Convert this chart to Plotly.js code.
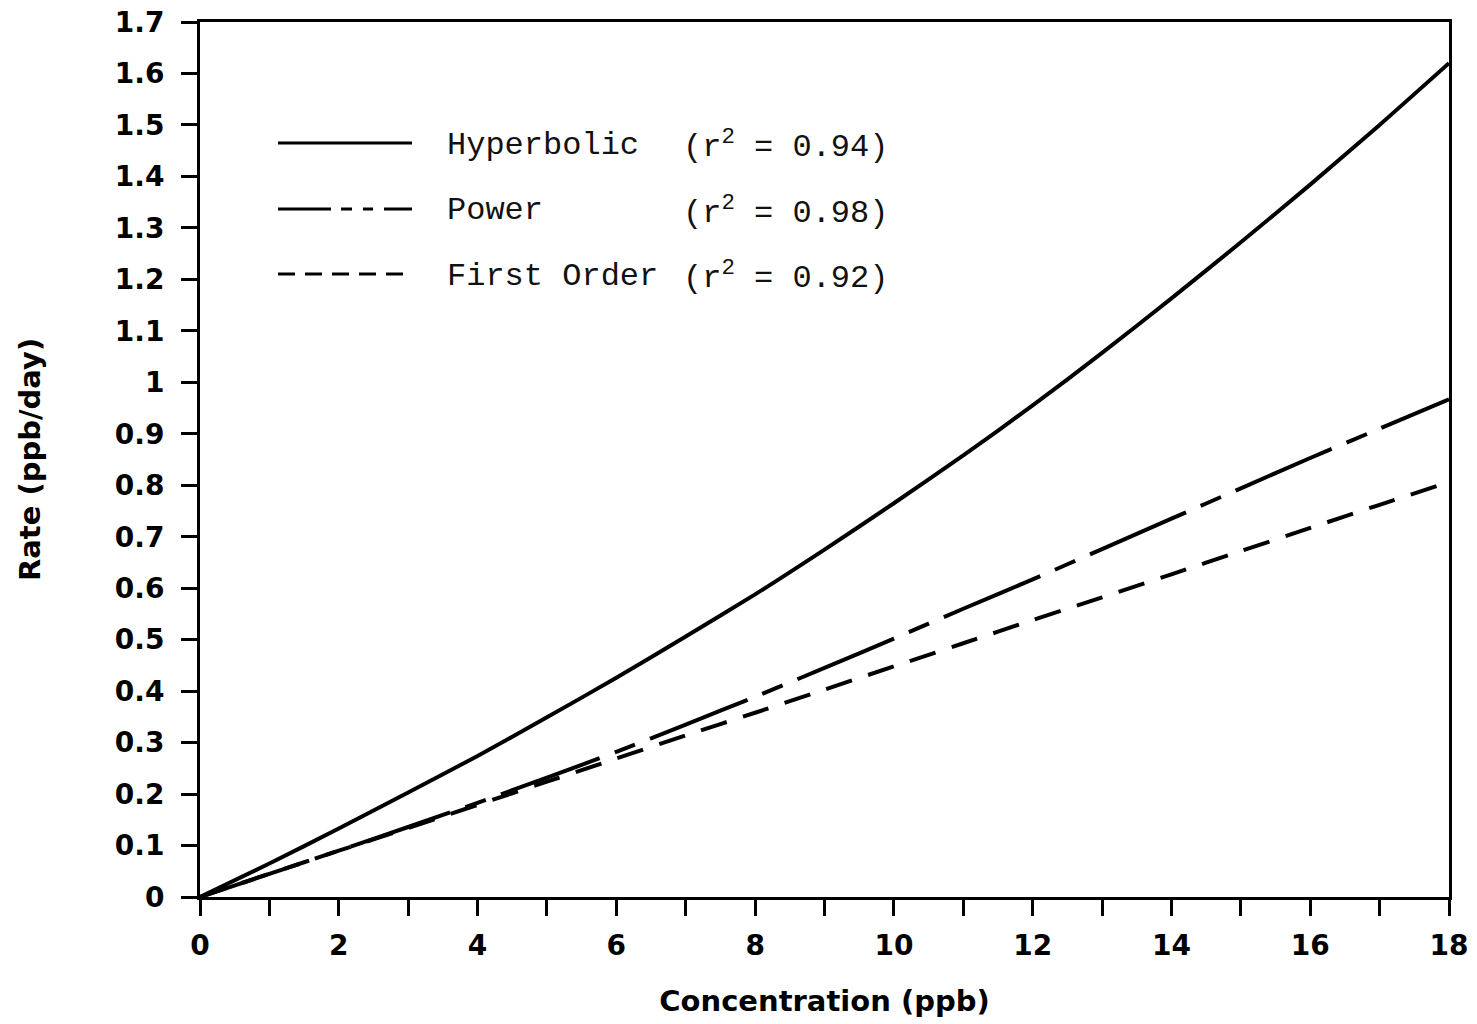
<!DOCTYPE html>
<html>
<head>
<meta charset="utf-8">
<script src="https://cdn.plot.ly/plotly-3.0.1.min.js"></script>
<style>html,body{margin:0;padding:0;background:#fff;}#chart{width:1477px;height:1024px;}</style>
</head>
<body>
<div id="chart"></div>
<script>
// ---- data ----
const concentration = [0,1,2,3,4,5,6,7,8,9,10,11,12,13,14,15,16,17,18];
const hyperbolicRate = [0,0.065,0.133,0.203,0.274,0.349,0.426,0.506,0.588,0.675,0.765,0.858,0.955,1.057,1.163,1.272,1.384,1.50,1.62];
const powerRate = [0,0.045,0.09,0.136,0.183,0.232,0.282,0.335,0.389,0.445,0.502,0.56,0.617,0.676,0.735,0.794,0.853,0.91,0.967];
const firstOrderRate = [0,0.045,0.09,0.134,0.179,0.224,0.269,0.314,0.358,0.403,0.448,0.493,0.538,0.582,0.627,0.672,0.717,0.762,0.806];

const seriesNames = ["Hyperbolic", "Power", "First Order"];
const rSquared = ["0.94", "0.98", "0.92"];

const xTickVals = [0,2,4,6,8,10,12,14,16,18];
const xTickText = ["0","2","4","6","8","10","12","14","16","18"];
const yTickVals = [0,0.1,0.2,0.3,0.4,0.5,0.6,0.7,0.8,0.9,1,1.1,1.2,1.3,1.4,1.5,1.6,1.7];
const yTickText = ["0","0.1","0.2","0.3","0.4","0.5","0.6","0.7","0.8","0.9","1","1.1","1.2","1.3","1.4","1.5","1.6","1.7"];

const xTitle = "Concentration (ppb)";
const yTitle = "Rate (ppb/day)";

// ---- styling ----
const W = 1477, H = 1024;
const M = {l: 200, r: 28, t: 22, b: 127};
const plotW = W - M.l - M.r, plotH = H - M.t - M.b;
const px2paperX = p => (p - M.l) / plotW;
const px2paperY = p => 1 - (p - M.t) / plotH;

const lineDashes = ["solid", "105px,16px,22px,16px", "27px,17px"];
const legendDashes = ["solid", "53px,10px,11px,11px,10px,11px,29px,0px", "17px,10px"];
const legendRowsY = [143, 209, 274];

const ys = [hyperbolicRate, powerRate, firstOrderRate];
const traces = ys.map((y, i) => ({
  x: concentration, y: y, type: "scatter", mode: "lines",
  name: seriesNames[i],
  line: {color: "#000", width: 4, dash: lineDashes[i], shape: "spline", smoothing: 0.6},
  hoverinfo: "skip"
}));

const legendFont = {family: "Liberation Mono", size: 32, color: "#111"};
const shapes = [];
const annotations = [];
legendRowsY.forEach((ry, i) => {
  shapes.push({type: "line", xref: "paper", yref: "paper",
    x0: px2paperX(278), x1: px2paperX(412), y0: px2paperY(ry), y1: px2paperY(ry),
    line: {color: "#000", width: 3, dash: legendDashes[i]}});
  annotations.push({xref: "paper", yref: "paper", x: px2paperX(445), y: px2paperY(ry + 2),
    xanchor: "left", yanchor: "middle", showarrow: false, text: seriesNames[i], font: legendFont});
  annotations.push({xref: "paper", yref: "paper", x: px2paperX(681), y: px2paperY(ry + 2),
    xanchor: "left", yanchor: "middle", showarrow: false,
    text: "(r<sup>2</sup>\u00A0=\u00A0" + rSquared[i] + ")", font: legendFont});
});

const tickFont = {family: "DejaVu Sans", size: 28, color: "#000", weight: "bold"};
const titleFont = {family: "DejaVu Sans", size: 29, color: "#000", weight: "bold"};

const layout = {
  width: W, height: H,
  margin: M,
  paper_bgcolor: "#fff", plot_bgcolor: "#fff",
  showlegend: false,
  xaxis: {
    range: [0, 18], tickmode: "array", tickvals: xTickVals, ticktext: xTickText,
    ticks: "outside", ticklen: 16, tickwidth: 3, tickcolor: "#000",
    minor: {dtick: 1, tick0: 0, ticks: "outside", ticklen: 16, tickwidth: 3, tickcolor: "#000", showgrid: false},
    showline: true, linewidth: 3, linecolor: "#000", mirror: true,
    showgrid: false, zeroline: false, tickfont: tickFont, ticklabelstandoff: 5,
    title: {text: xTitle, font: titleFont, standoff: 31}, automargin: false
  },
  yaxis: {
    range: [0, 1.7], tickmode: "array", tickvals: yTickVals, ticktext: yTickText,
    ticks: "outside", ticklen: 16, tickwidth: 3, tickcolor: "#000",
    showline: true, linewidth: 3, linecolor: "#000", mirror: true,
    showgrid: false, zeroline: false, tickfont: tickFont, ticklabelstandoff: 11,
    title: {text: yTitle, font: titleFont, standoff: 66}, automargin: false
  },
  shapes: shapes,
  annotations: annotations
};

Plotly.newPlot("chart", traces, layout, {staticPlot: true, displayModeBar: false});
</script>
</body>
</html>
